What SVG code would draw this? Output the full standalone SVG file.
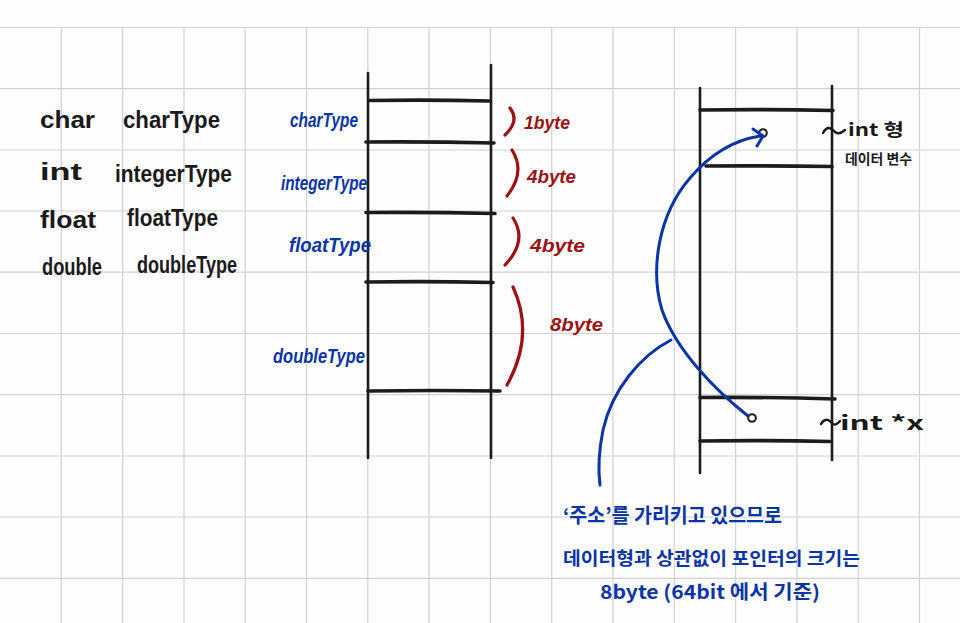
<svg xmlns="http://www.w3.org/2000/svg" width="960" height="623" viewBox="0 0 960 623">
<defs>
<style>
.grid{stroke:#d2d2d2;stroke-width:1.2;fill:none}
.wall{stroke:#1c1c1c;stroke-width:2.6;fill:none;stroke-linecap:round}
.bar{stroke:#1c1c1c;stroke-width:3.6;fill:none;stroke-linecap:round}
.blk{font-family:"Liberation Sans","Noto Sans CJK KR",sans-serif;font-weight:bold;fill:#1a1a1a}
.blu{font-family:"Liberation Sans","Noto Sans CJK KR",sans-serif;font-weight:bold;font-style:italic;fill:#0b34a6}
.red{font-family:"Liberation Sans",sans-serif;font-weight:bold;font-style:italic;fill:#9c1212}
.kr{font-family:"Noto Sans CJK KR","Liberation Sans",sans-serif;font-weight:bold;fill:#0b34a6}
.krb{font-family:"Noto Sans CJK KR","Liberation Sans",sans-serif;font-weight:bold;fill:#1a1a1a}
.tilde{stroke:#1a1a1a;stroke-width:2.4;fill:none;stroke-linecap:round}
.brk{stroke:#9c1212;stroke-width:3.2;fill:none;stroke-linecap:round}
.ptr{stroke:#0b34a6;stroke-width:3;fill:none;stroke-linecap:round;stroke-linejoin:round}
.dot{stroke:#1c1c1c;stroke-width:2;fill:#ffffff}
</style>
</defs>
<rect x="0" y="0" width="960" height="623" fill="#fdfdfd"/>
<g id="grid">
<path class="grid" d="M0 27.5H960M0 88.7H960M0 150H960M0 211H960M0 272.2H960M0 333.5H960M0 394.7H960M0 456H960M0 517H960M0 578.3H960
M61.3 27.5V623M122.6 27.5V623M184 27.5V623M245.2 27.5V623M306.5 27.5V623M367.8 27.5V623M429 27.5V623M490.4 27.5V623M551.7 27.5V623M613 27.5V623M674.3 27.5V623M735.6 27.5V623M797 27.5V623M858.2 27.5V623M919.5 27.5V623"/>
</g>
<g id="type-table">
<text class="blk" x="40" y="128" font-size="23" textLength="55" lengthAdjust="spacingAndGlyphs">char</text>
<text class="blk" x="123" y="128" font-size="23" textLength="97" lengthAdjust="spacingAndGlyphs">charType</text>
<text class="blk" x="40" y="180" font-size="23" textLength="42" lengthAdjust="spacingAndGlyphs">int</text>
<text class="blk" x="115" y="182" font-size="23" textLength="117" lengthAdjust="spacingAndGlyphs">integerType</text>
<text class="blk" x="40" y="228" font-size="23" textLength="56" lengthAdjust="spacingAndGlyphs">float</text>
<text class="blk" x="127" y="226" font-size="23" textLength="91" lengthAdjust="spacingAndGlyphs">floatType</text>
<text class="blk" x="42" y="275" font-size="23" textLength="60" lengthAdjust="spacingAndGlyphs">double</text>
<text class="blk" x="137" y="273" font-size="23" textLength="100" lengthAdjust="spacingAndGlyphs">doubleType</text>
</g>
<g id="memory-types">
<path class="wall" d="M368 73V458M491 65V458"/>
<path class="bar" d="M370 100.5Q430 99.5 489 101M366 142Q430 141.5 494 143M366 212.5Q430 212 495 213.5M366 282Q430 281 493 282.5M368 391Q434 390 500 391"/>
</g>
<g id="label-char"><text class="blu" x="290" y="127" font-size="20" textLength="68" lengthAdjust="spacingAndGlyphs">charType</text></g>
<g id="label-int"><text class="blu" x="281" y="190" font-size="20" textLength="86" lengthAdjust="spacingAndGlyphs">integerType</text></g>
<g id="label-float"><text class="blu" x="289" y="252" font-size="20" textLength="82" lengthAdjust="spacingAndGlyphs">floatType</text></g>
<g id="label-double"><text class="blu" x="273" y="363" font-size="20" textLength="92" lengthAdjust="spacingAndGlyphs">doubleType</text></g>
<g id="size-char"><path class="brk" d="M510 108Q520 121 505 135"/><text class="red" x="524" y="129" font-size="19" textLength="46" lengthAdjust="spacingAndGlyphs">1byte</text></g>
<g id="size-int"><path class="brk" d="M512 150Q526 172 507 196"/><text class="red" x="527" y="183" font-size="19" textLength="49" lengthAdjust="spacingAndGlyphs">4byte</text></g>
<g id="size-float"><path class="brk" d="M513 218Q528 241 505 265"/><text class="red" x="530" y="252" font-size="19" textLength="55" lengthAdjust="spacingAndGlyphs">4byte</text></g>
<g id="size-double"><path class="brk" d="M513 287Q535 335 507 385"/><text class="red" x="550" y="331" font-size="19" textLength="53" lengthAdjust="spacingAndGlyphs">8byte</text></g>
<g id="memory-pointer">
<path class="wall" d="M700 88V473M832 86V460"/>
<path class="bar" d="M700 110Q766 109 833 110.5M706 166Q770 165.5 832 166.5M700 397.5Q768 397 835 399M700 441Q765 440 830 441.5"/>
</g>
<g id="var-int">
<circle class="dot" cx="763" cy="133" r="3.8"/>
<path class="tilde" d="M823 133Q828 124 834 131Q838 136 845 130"/>
<text class="krb" x="848" y="136" font-size="17" textLength="56" lengthAdjust="spacingAndGlyphs">int 형</text>
<text class="krb" x="845" y="164" font-size="14" textLength="67" lengthAdjust="spacingAndGlyphs">데이터 변수</text>
</g>
<g id="var-ptr">
<circle class="dot" cx="752" cy="418" r="3.8"/>
<path class="tilde" d="M821 424Q826 416 832 423Q835 427 840 421"/>
<text class="krb" x="840" y="430" font-size="20" textLength="84" lengthAdjust="spacingAndGlyphs">int *x</text>
</g>
<g id="connectors">
<path class="ptr" d="M748 416C715 390 676 350 662 310C650 270 658 215 690 178C712 152 735 140 760 136"/>
<path class="ptr" d="M753 129L763 136L757 146"/>
<path class="ptr" d="M671 340C640 356 612 390 603 430C598 455 598 470 600 485"/>
</g>
<g id="note">
<text class="kr" x="563" y="523" font-size="20" textLength="219" lengthAdjust="spacingAndGlyphs">‘주소’를 가리키고 있으므로</text>
<text class="kr" x="563" y="565" font-size="18" textLength="297" lengthAdjust="spacingAndGlyphs">데이터형과 상관없이 포인터의 크기는</text>
<text class="kr" x="600" y="599" font-size="19" textLength="220" lengthAdjust="spacingAndGlyphs">8byte (64bit 에서 기준)</text>
</g>
</svg>
